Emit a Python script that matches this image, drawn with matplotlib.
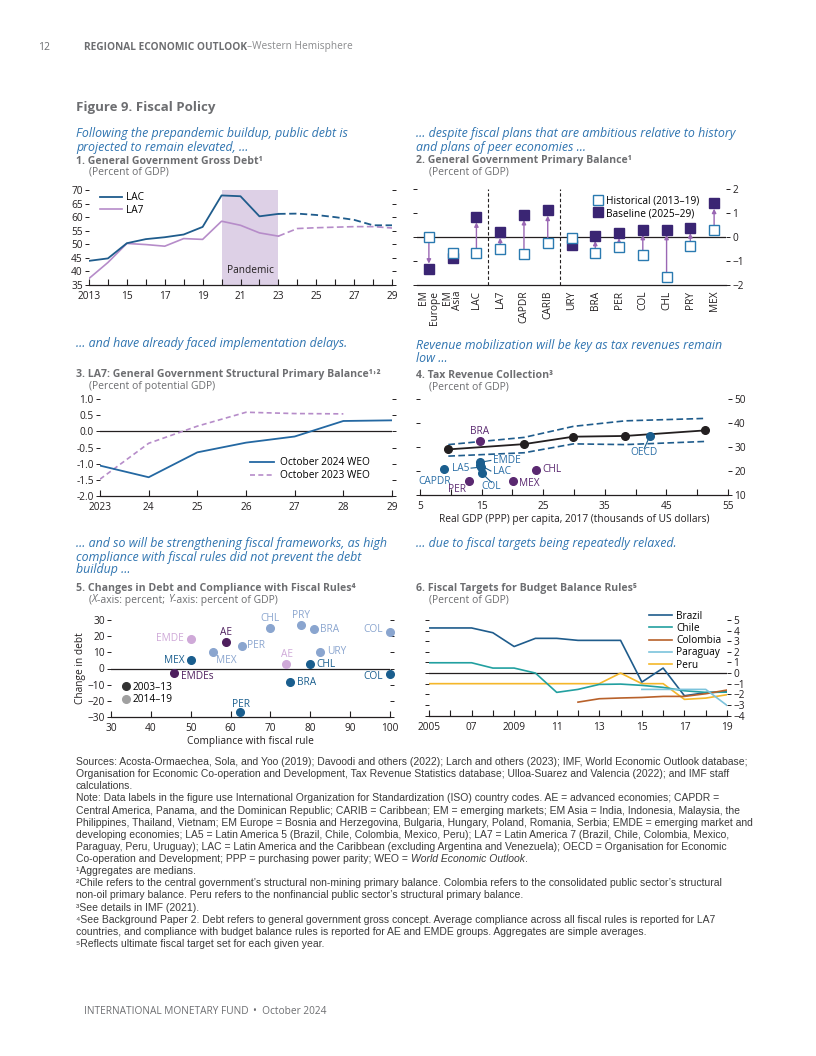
import matplotlib
matplotlib.use('Agg')
import matplotlib.pyplot as plt
import numpy as np
from matplotlib.lines import Line2D

# ---------------- DATA ----------------
# Panel 1: General government gross debt (percent of GDP)
p1_years = [2013, 2014, 2015, 2016, 2017, 2018, 2019, 2020, 2021, 2022, 2023,
            2024, 2025, 2026, 2027, 2028, 2029]
p1_lac = [43.9, 44.8, 50.4, 51.9, 52.6, 53.6, 56.4, 68.0, 67.7, 60.3, 61.2,
          61.3, 60.8, 60.0, 59.0, 57.0, 57.0]
p1_la7 = [37.4, 43.3, 50.3, 49.9, 49.3, 52.1, 51.8, 58.5, 57.0, 54.2, 53.0,
          55.8, 56.1, 56.3, 56.5, 56.5, 56.0]
p1_last_actual = 2023
p1_pandemic = (2020, 2023)

# Panel 2: Primary balance (percent of GDP)
p2_cats = ['EM\nEurope', 'EM\nAsia', 'LAC', 'LA7', 'CAPDR', 'CARIB', 'URY',
           'BRA', 'PER', 'COL', 'CHL', 'PRY', 'MEX']
p2_hist = [0.0, -0.67, -0.67, -0.49, -0.72, -0.26, -0.06, -0.68, -0.40, -0.76,
           -1.67, -0.39, 0.28]
p2_base = [-1.33, -0.86, 0.83, 0.19, 0.93, 1.11, -0.33, 0.06, 0.17, 0.31,
           0.31, 0.38, 1.40]
p2_arrow = [True, False, True, True, True, True, False, True, True, True,
            True, True, True]
p2_dividers = [2.5, 5.5]

# Panel 3: LA7 structural primary balance
p3_years = [2023, 2024, 2025, 2026, 2027, 2028, 2029]
p3_oct24 = [-1.06, -1.42, -0.65, -0.35, -0.16, 0.32, 0.34]
p3_years23 = [2023, 2024, 2025, 2026, 2027, 2028]
p3_oct23 = [-1.48, -0.37, 0.16, 0.59, 0.55, 0.54]

# Panel 4: Tax revenue collection
p4_line_x = [9.6, 21.9, 29.9, 38.3, 51.2]
p4_line_y = [29.0, 31.2, 34.3, 34.6, 36.9]
p4_upper_x = [9.6, 21.9, 29.9, 38.3, 51.2]
p4_upper_y = [31.0, 34.0, 38.6, 40.9, 41.9]
p4_lower_x = [9.6, 21.9, 29.9, 38.3, 51.2]
p4_lower_y = [26.2, 27.6, 31.3, 31.0, 32.3]
p4_names = ['BRA', 'CAPDR', 'PER', 'EMDE', 'LAC', 'LA5', 'COL', 'MEX', 'CHL', 'OECD']
p4_gdp = [14.7, 8.9, 13.0, 14.7, 14.8, 14.9, 15.0, 20.1, 23.9, 42.3]
p4_tax = [32.3, 20.7, 15.9, 23.6, 22.4, 21.6, 19.2, 15.9, 20.4, 34.5]
p4_group = ['c', 'a', 'c', 'a', 'a', 'a', 'a', 'c', 'c', 'a']

# Panel 5: Changes in debt and compliance with fiscal rules
p5_names = ['MEX', 'AE', 'EMDEs', 'CHL', 'BRA', 'COL', 'PER',
            'EMDE', 'MEX', 'PER', 'CHL', 'PRY', 'BRA', 'URY', 'AE', 'COL']
p5_compliance = [50.0, 58.9, 45.9, 80.0, 74.9, 100.0, 62.4,
                 50.0, 55.5, 62.8, 69.9, 77.7, 81.0, 82.4, 74.0, 100.0]
p5_debt = [5.5, 16.3, -3.0, 2.6, -8.2, -3.6, -26.6,
           18.4, 10.3, 14.2, 25.0, 27.1, 24.4, 10.5, 2.8, 22.7]
p5_period = ['2003–13'] * 7 + ['2014–19'] * 9
p5_kind = ['la7', 'grp', 'grp', 'la7', 'la7', 'la7', 'la7',
           'grp', 'la7', 'la7', 'la7', 'la7', 'la7', 'la7', 'grp', 'la7']

# Panel 6: Fiscal targets for budget balance rules
p6_years = list(range(2005, 2020))
p6_brazil = [4.25, 4.25, 4.25, 3.8, 2.5, 3.27, 3.27, 3.08, 3.08, 3.08, -0.85,
             0.47, -2.14, -1.85, -1.76]
p6_chile = [0.97, 0.97, 0.97, 0.47, 0.47, 0.0, -1.82, -1.54, -1.07, -1.04,
            -1.16, -1.35, -1.67, -1.82, -1.8]
p6_colombia_years = list(range(2012, 2020))
p6_colombia = [-2.74, -2.42, -2.35, -2.3, -2.2, -2.2, -1.95, -1.6]
p6_paraguay_years = list(range(2015, 2020))
p6_paraguay = [-1.54, -1.54, -1.54, -1.54, -3.05]
p6_peru = [-1.0, -1.0, -1.0, -1.0, -1.0, -1.0, -1.0, -1.0, -1.0, 0.0, -1.0,
           -1.0, -2.48, -2.36, -2.04]

# ---------------- STYLE ----------------
plt.rcParams['font.family'] = ['Open Sans', 'DejaVu Sans']
plt.rcParams['axes.unicode_minus'] = True

W, H = 816, 1056
fig = plt.figure(figsize=(W / 100, H / 100), dpi=100)

TXT = '#231f20'
GRAY = '#6d6e71'
SUBBLUE = '#2f74b0'
DKBLUE = '#1f5c8c'
LPURP = '#b68cc9'
FS = 7.3


def ax_at(l, t, r, b):
    return fig.add_axes([l / W, 1 - b / H, (r - l) / W, (b - t) / H])


def ftext(x, y, s, **kw):
    kw.setdefault('va', 'center')
    kw.setdefault('ha', 'left')
    return fig.text(x / W, 1 - y / H, s, **kw)


def right_edge(t):
    fig.canvas.draw()
    return t.get_window_extent(fig.canvas.get_renderer()).x1


def style(ax, left_labels=True, right_labels=False):
    for s in ['top', 'left', 'right']:
        ax.spines[s].set_visible(False)
    ax.spines['bottom'].set_linewidth(0.9)
    ax.spines['bottom'].set_color(TXT)
    ax.set_facecolor('none')
    ax.tick_params(axis='y', which='both', left=True, right=True,
                   labelleft=left_labels, labelright=right_labels,
                   direction='out', length=3, width=0.7, pad=1.5,
                   labelsize=FS, colors=TXT)
    ax.tick_params(axis='x', which='both', direction='in', length=4,
                   width=0.8, labelsize=FS, pad=4.5, colors=TXT)


def headers(x, ys, subtitle_lines, title, unit, unit_x=None):
    for i, line in enumerate(subtitle_lines):
        ftext(x, ys[0] + i * 13, line, fontsize=8.9, style='italic', color=SUBBLUE)
    ftext(x, ys[1], title, fontsize=7.6, fontweight='bold', color=GRAY)
    if unit:
        ftext(unit_x if unit_x else x + 13, ys[2], unit, fontsize=7.5, color=GRAY)


# Page header
ftext(38, 47, '12', fontsize=7.5, color=GRAY)
t = ftext(84, 47, 'REGIONAL ECONOMIC OUTLOOK', fontsize=7.3, fontweight='bold', color=GRAY)
ftext(right_edge(t), 47, '–Western Hemisphere', fontsize=7.3, color='#8a8b8d')

ftext(76, 107, 'Figure 9. Fiscal Policy', fontsize=9.5, fontweight='bold', color=GRAY)

# ---------------- PANEL 1 ----------------
headers(76, (134, 161, 172),
        ['Following the prepandemic buildup, public debt is',
         'projected to remain elevated, ...'],
        '1. General Government Gross Debt¹', '(Percent of GDP)', 89)
ax1 = ax_at(89, 190, 392, 285)
style(ax1)
yrs = np.array(p1_years)
lac = np.array(p1_lac)
la7 = np.array(p1_la7)
act = yrs <= p1_last_actual
prj = yrs >= p1_last_actual
ax1.axvspan(p1_pandemic[0], p1_pandemic[1], color='#ddd0e6', lw=0, zorder=0)
ax1.plot(yrs[act], lac[act], color=DKBLUE, lw=1.3, label='LAC', zorder=3)
ax1.plot(yrs[prj], lac[prj], color=DKBLUE, lw=1.3, ls=(0, (4, 2)), zorder=3)
ax1.plot(yrs[act], la7[act], color=LPURP, lw=1.2, label='LA7', zorder=2)
ax1.plot(yrs[prj], la7[prj], color=LPURP, lw=1.2, ls=(0, (4, 2)), zorder=2)
ax1.text(2021.5, 40.5, 'Pandemic', fontsize=FS, color=TXT, ha='center', va='center')
ax1.set_xlim(2013, 2029)
ax1.set_ylim(35, 70)
ax1.set_xticks(range(2013, 2030, 2))
ax1.set_xticklabels(['2013', '15', '17', '19', '21', '23', '25', '27', '29'])
ax1.set_xticks(range(2013, 2030), minor=True)
ax1.set_yticks(range(35, 71, 5))
ax1.legend(loc='upper left', bbox_to_anchor=(0.02, 1.03), frameon=False,
           fontsize=FS, handlelength=2.2, handletextpad=0.4, labelspacing=0.15,
           borderpad=0)

# ---------------- PANEL 2 ----------------
headers(416, (134, 161, 172),
        ['... despite fiscal plans that are ambitious relative to history',
         'and plans of peer economies ...'],
        '2. General Government Primary Balance¹', '(Percent of GDP)', 429)
ax2 = ax_at(417, 189, 726, 285)
style(ax2, left_labels=False, right_labels=True)
n = len(p2_cats)
xs = np.arange(n)
ax2.axhline(0, color=TXT, lw=0.9, zorder=1)
for d in p2_dividers:
    ax2.axvline(d, color=TXT, lw=0.8, ls=(0, (3, 2)), zorder=1)
for i in range(n):
    if p2_arrow[i]:
        ax2.annotate('', xy=(xs[i], p2_base[i]), xytext=(xs[i], p2_hist[i]),
                     arrowprops=dict(arrowstyle='-|>', color='#9a67b4', lw=1.0,
                                     shrinkA=3.5, shrinkB=3.8, mutation_scale=6),
                     zorder=2)
ax2.plot(xs, p2_hist, 's', ms=6.5, mfc='white', mec='#2a7ab0', mew=1.0,
         ls='none', zorder=4, label='Historical (2013–19)')
ax2.plot(xs, p2_base, 's', ms=6.5, mfc='#3a2573', mec='#3a2573', mew=1.0,
         ls='none', zorder=3, label='Baseline (2025–29)')
ax2.set_xlim(-0.5, n - 0.5)
ax2.set_ylim(-2, 2)
ax2.set_yticks([-2, -1, 0, 1, 2])
ax2.set_xticks(xs)
ax2.set_xticklabels(p2_cats, rotation=90, ha='center', va='top',
                    multialignment='right', fontsize=FS, linespacing=0.95)
ax2.tick_params(axis='x', length=0, pad=4)
ax2.legend(loc='upper left', bbox_to_anchor=(0.555, 0.985), frameon=False,
           fontsize=FS, handlelength=0.8, handletextpad=0.4, labelspacing=0.15,
           borderpad=0)

# ---------------- PANEL 3 ----------------
headers(76, (344, 375, 387),
        ['... and have already faced implementation delays.'],
        '3. LA7: General Government Structural Primary Balance¹˒²',
        '(Percent of potential GDP)', 89)
ax3 = ax_at(100, 399, 392, 496)
style(ax3)
ax3.axhline(0, color=TXT, lw=0.9, zorder=1)
ax3.plot(p3_years, p3_oct24, color='#2468a2', lw=1.3, label='October 2024 WEO', zorder=3)
ax3.plot(p3_years23, p3_oct23, color=LPURP, lw=1.2, ls=(0, (3, 2)),
         label='October 2023 WEO', zorder=2)
ax3.set_xlim(2023, 2029)
ax3.set_ylim(-2.0, 1.0)
ax3.set_xticks(range(2023, 2030))
ax3.set_xticklabels(['2023', '24', '25', '26', '27', '28', '29'])
ax3.set_yticks(np.arange(-2.0, 1.01, 0.5))
ax3.yaxis.set_major_formatter(matplotlib.ticker.FormatStrFormatter('%.1f'))
ax3.legend(loc='lower right', bbox_to_anchor=(0.94, 0.1), frameon=False,
           fontsize=FS, handlelength=2.4, handletextpad=0.5, labelspacing=0.2,
           borderpad=0)

# ---------------- PANEL 4 ----------------
headers(416, (345, 375, 387),
        ['Revenue mobilization will be key as tax revenues remain',
         'low ...'],
        '4. Tax Revenue Collection³', '(Percent of GDP)', 429)
ax4 = ax_at(420, 399, 728, 495)
style(ax4, left_labels=False, right_labels=True)
ax4.plot(p4_upper_x, p4_upper_y, color=DKBLUE, lw=1.2, ls=(0, (4, 2)), zorder=2)
ax4.plot(p4_lower_x, p4_lower_y, color=DKBLUE, lw=1.2, ls=(0, (4, 2)), zorder=2)
ax4.plot(p4_line_x, p4_line_y, color=TXT, lw=1.3, marker='o', ms=5.5, zorder=3)
p4_col = {'a': '#1a5e8e', 'c': '#5a2870'}
p4_lbl = {'a': '#2a6ea6', 'c': '#5a2870'}
# label placement (data units) and whether to draw a leader line
p4_label_pos = {'BRA': (14.6, 36.4, 'center', False),
                'CAPDR': (7.4, 15.5, 'center', False),
                'PER': (11.0, 12.1, 'center', False),
                'EMDE': (16.8, 24.4, 'left', True),
                'LAC': (16.8, 20.0, 'left', True),
                'LA5': (13.0, 21.2, 'right', True),
                'COL': (16.6, 13.5, 'center', True),
                'MEX': (21.0, 15.0, 'left', False),
                'CHL': (24.9, 20.5, 'left', False),
                'OECD': (41.4, 27.6, 'center', True)}
for nm, gx, ty, g in zip(p4_names, p4_gdp, p4_tax, p4_group):
    ax4.plot([gx], [ty], 'o', ms=5.5, color=p4_col[g], zorder=4)
    lx, ly, ha, lead = p4_label_pos[nm]
    if lead:
        ex = lx + (0.3 if ha == 'right' else -0.3 if ha == 'left' else 0)
        ey = ly + (1.8 if ha == 'center' else 0)
        ax4.plot([gx, ex], [ty, ey], color=p4_col[g], lw=0.8, zorder=3)
    ax4.text(lx, ly, nm, fontsize=FS, color=p4_lbl[g], ha=ha, va='center')
ax4.set_xlim(5, 55)
ax4.set_ylim(10, 50)
ax4.set_xticks(range(5, 56, 10))
ax4.set_xticks(range(10, 51, 10), minor=True)
ax4.set_yticks(range(10, 51, 10))
ax4.set_xlabel('Real GDP (PPP) per capita, 2017 (thousands of US dollars)',
               fontsize=FS, color=TXT, labelpad=1)

# ---------------- PANEL 5 ----------------
headers(76, (544, 588, 600),
        ['... and so will be strengthening fiscal frameworks, as high',
         'compliance with fiscal rules did not prevent the debt',
         'buildup ...'],
        '5. Changes in Debt and Compliance with Fiscal Rules⁴', '', 89)
parts = [('(', 'normal'), ('X', 'italic'), ('-axis: percent; ', 'normal'),
         ('Y', 'italic'), ('-axis: percent of GDP)', 'normal')]
xcur = 89
for s, st in parts:
    tt = ftext(xcur, 600, s, fontsize=7.5, color=GRAY, style=st)
    xcur = right_edge(tt)

ax5 = ax_at(111, 620, 390, 717)
style(ax5)
ax5.axhline(0, color=TXT, lw=0.9, zorder=1)
p5_colors = {('2003–13', 'la7'): '#1a5e8e', ('2003–13', 'grp'): '#4e1f5e',
             ('2014–19', 'la7'): '#8aa5cf', ('2014–19', 'grp'): '#cfa9d8'}
p5_label_pos = [(48.4, 5.2, 'right'), (58.9, 22.0, 'center'), (47.5, -4.9, 'left'),
                (81.6, 2.4, 'left'), (76.6, -8.4, 'left'), (98.3, -4.9, 'right'),
                (62.5, -22.0, 'center'),
                (48.3, 18.4, 'right'), (59.0, 4.9, 'center'), (64.2, 14.1, 'left'),
                (70.0, 30.8, 'center'), (77.6, 32.7, 'center'), (82.4, 24.2, 'left'),
                (84.1, 10.3, 'left'), (74.2, 8.4, 'center'), (98.3, 24.2, 'right')]
for nm, cx, dy, per, kd, (lx, ly, ha) in zip(p5_names, p5_compliance, p5_debt,
                                            p5_period, p5_kind, p5_label_pos):
    c = p5_colors[(per, kd)]
    ax5.plot([cx], [dy], 'o', ms=5.5, color=c, zorder=4, clip_on=False)
    ax5.text(lx, ly, nm, fontsize=FS, color=c, ha=ha, va='center')
ax5.set_xlim(30, 100)
ax5.set_ylim(-30, 30)
ax5.set_xticks(range(30, 101, 10))
ax5.set_yticks(range(-30, 31, 10))
ax5.set_xlabel('Compliance with fiscal rule', fontsize=FS, color=TXT, labelpad=1)
ax5.set_ylabel('Change in debt', fontsize=FS, color=TXT, labelpad=1)
h5 = [Line2D([], [], marker='o', ls='none', ms=5.5, color='#333333'),
      Line2D([], [], marker='o', ls='none', ms=5.5, color='#a0a0a0')]
ax5.legend(h5, ['2003–13', '2014–19'], loc='lower left',
           bbox_to_anchor=(0.02, 0.07), frameon=False, fontsize=FS,
           handlelength=0.8, handletextpad=0.3, labelspacing=0.15, borderpad=0)

# ---------------- PANEL 6 ----------------
headers(416, (544, 588, 600),
        ['... due to fiscal targets being repeatedly relaxed.'],
        '6. Fiscal Targets for Budget Balance Rules⁵', '(Percent of GDP)', 429)
ax6 = ax_at(429, 620, 727, 715.5)
style(ax6, left_labels=False, right_labels=True)
ax6.axhline(0, color=TXT, lw=0.9, zorder=1)
ax6.plot(p6_years, p6_brazil, color='#1f5c8c', lw=1.2, label='Brazil', zorder=3)
ax6.plot(p6_years, p6_chile, color='#22a0a0', lw=1.2, label='Chile', zorder=3)
ax6.plot(p6_colombia_years, p6_colombia, color='#b8612a', lw=1.2, label='Colombia', zorder=3)
ax6.plot(p6_paraguay_years, p6_paraguay, color='#7cc3dc', lw=1.2, label='Paraguay', zorder=3)
ax6.plot(p6_years, p6_peru, color='#f4b72a', lw=1.2, label='Peru', zorder=2)
ax6.set_xlim(2005, 2019)
ax6.set_ylim(-4, 5)
ax6.set_xticks(range(2005, 2020, 2))
ax6.set_xticklabels(['2005', '07', '2009', '11', '13', '15', '17', '19'])
ax6.set_xticks(range(2005, 2020), minor=True)
ax6.set_yticks(range(-4, 6))
ax6.legend(loc='upper left', bbox_to_anchor=(0.72, 1.15), frameon=False,
           fontsize=FS, handlelength=2.3, handletextpad=0.4, labelspacing=0.12,
           borderpad=0)

# ---------------- FOOTNOTES ----------------
notes = [
    'Sources: Acosta-Ormaechea, Sola, and Yoo (2019); Davoodi and others (2022); Larch and others (2023); IMF, World Economic Outlook database;',
    'Organisation for Economic Co-operation and Development, Tax Revenue Statistics database; Ulloa-Suarez and Valencia (2022); and IMF staff',
    'calculations.',
    'Note: Data labels in the figure use International Organization for Standardization (ISO) country codes. AE = advanced economies; CAPDR =',
    'Central America, Panama, and the Dominican Republic; CARIB = Caribbean; EM = emerging markets; EM Asia = India, Indonesia, Malaysia, the',
    'Philippines, Thailand, Vietnam; EM Europe = Bosnia and Herzegovina, Bulgaria, Hungary, Poland, Romania, Serbia; EMDE = emerging market and',
    'developing economies; LA5 = Latin America 5 (Brazil, Chile, Colombia, Mexico, Peru); LA7 = Latin America 7 (Brazil, Chile, Colombia, Mexico,',
    'Paraguay, Peru, Uruguay); LAC = Latin America and the Caribbean (excluding Argentina and Venezuela); OECD = Organisation for Economic',
    None,
    '¹Aggregates are medians.',
    '²Chile refers to the central government’s structural non-mining primary balance. Colombia refers to the consolidated public sector’s structural',
    'non-oil primary balance. Peru refers to the nonfinancial public sector’s structural primary balance.',
    '³See details in IMF (2021).',
    '⁴See Background Paper 2. Debt refers to general government gross concept. Average compliance across all fiscal rules is reported for LA7',
    'countries, and compliance with budget balance rules is reported for AE and EMDE groups. Aggregates are simple averages.',
    '⁵Reflects ultimate fiscal target set for each given year.',
]
NFONT = ['Liberation Sans', 'DejaVu Sans']
NFS = 7.45
NCOL = '#3b3b3b'
for i, line in enumerate(notes):
    y = 762 + i * 12.13
    if line is None:
        tt = ftext(76, y, 'Co-operation and Development; PPP = purchasing power parity; WEO = ',
                   fontsize=NFS, color=NCOL, family=NFONT)
        t2 = ftext(right_edge(tt), y, 'World Economic Outlook', fontsize=NFS, color=NCOL,
                   family=NFONT, style='italic')
        ftext(right_edge(t2), y, '.', fontsize=NFS, color=NCOL, family=NFONT)
    else:
        ftext(76, y, line, fontsize=NFS, color=NCOL, family=NFONT)

tb = ftext(84, 1012, 'INTERNATIONAL MONETARY FUND', fontsize=7.3, color=GRAY)
ftext(right_edge(tb) + 4, 1012, '•  October 2024', fontsize=7.3, color=GRAY)

fig.savefig('out.png', dpi=100)
